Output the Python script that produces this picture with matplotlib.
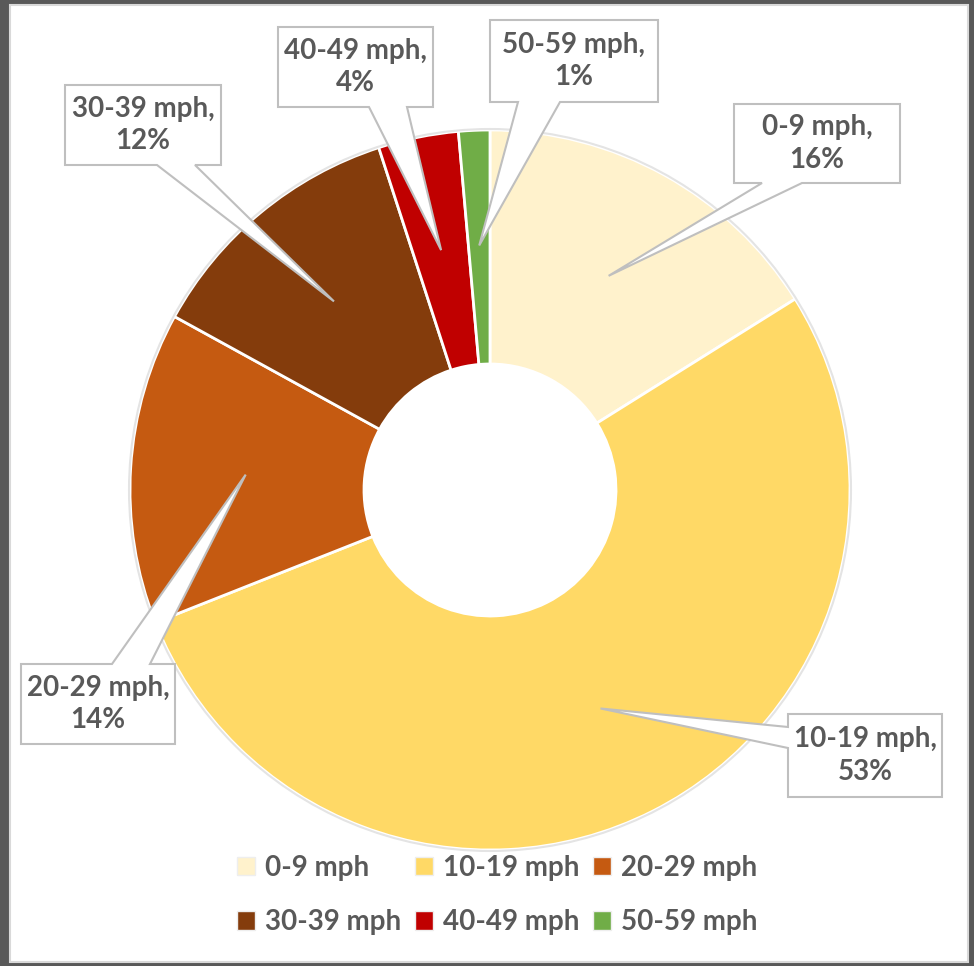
import matplotlib.pyplot as plt
import numpy as np
from matplotlib.patches import Polygon, Rectangle, Patch, Circle

# dane - rozkład prędkości wiatru
kategorie = ['0-9 mph', '10-19 mph', '20-29 mph', '30-39 mph', '40-49 mph', '50-59 mph']
udzialy = [16.1, 52.9, 14.0, 12.0, 3.6, 1.4]
kolory = ['#FFF2CC', '#FFD966', '#C55A11', '#843C0C', '#C00000', '#70AD47']

W, H = 974, 966
SZARY = '#595959'
plt.rcParams['font.family'] = ['Lato', 'DejaVu Sans']

fig = plt.figure(figsize=(W / 100, H / 100), dpi=100, facecolor=SZARY)
# białe tło wykresu z cienką jasną ramką (pod osiami)
fig.patches.append(Rectangle((10, 4), W - 16, H - 9, transform=None, zorder=-10,
                             facecolor='white', edgecolor='#d9d9d9', linewidth=1.5))

ax = fig.add_axes([0, 0, 1, 1])
ax.patch.set_alpha(0)

cx, cy = 490, H - 490
R = 360
ax.pie(udzialy, colors=kolory, startangle=90, counterclock=False,
       radius=R, center=(cx, cy),
       wedgeprops=dict(width=R - 126, edgecolor='white', linewidth=2))
# delikatny cień na zewnętrznej krawędzi pierścienia
ax.add_patch(Circle((cx, cy), R + 1, fill=False, edgecolor='#e4e4e4', linewidth=1.5, zorder=2))
ax.set_xlim(0, W)
ax.set_ylim(0, H)
ax.axis('off')

# dymki z etykietami: ramka (x0, y0, x1, y1 - od góry), bok wskaźnika, podstawa wskaźnika
dymki = [
    ((734, 104, 900, 183), 'bottom', (762, 802)),
    ((788, 714, 942, 797), 'left', (727, 748)),
    ((21, 664, 175, 744), 'top', (112, 150)),
    ((65, 85, 221, 165), 'bottom', (157, 195)),
    ((278, 27, 433, 107), 'bottom', (369, 407)),
    ((490, 20, 658, 102), 'bottom', (518, 560)),
]

suma = sum(udzialy)
poczatek = 0
for nazwa, v, (box, bok, (a, b)) in zip(kategorie, udzialy, dymki):
    kat = np.radians((poczatek + v / 2) / suma * 360)
    poczatek += v
    tx = cx + 0.68 * R * np.sin(kat)
    ty = H - (cy + 0.68 * R * np.cos(kat))
    x0, y0, x1, y1 = box
    if bok == 'bottom':
        pts = [(x0, y0), (x1, y0), (x1, y1), (b, y1), (tx, ty), (a, y1), (x0, y1)]
    elif bok == 'top':
        pts = [(x0, y0), (a, y0), (tx, ty), (b, y0), (x1, y0), (x1, y1), (x0, y1)]
    else:
        pts = [(x0, y0), (x1, y0), (x1, y1), (x0, y1), (x0, b), (tx, ty), (x0, a)]
    pts = [(px, H - py) for px, py in pts]
    ax.add_patch(Polygon(pts, closed=True, facecolor='white', edgecolor='#bfbfbf',
                         linewidth=1.5, zorder=5))
    ax.text((x0 + x1) / 2, H - (y0 + y1) / 2, f'{nazwa},\n{round(v / suma * 100)}%',
            ha='center', va='center', fontsize=20, fontweight='bold', color=SZARY,
            linespacing=1.3, zorder=6)

# legenda - wiersz po wierszu
uchwyty = [Patch(facecolor=k, edgecolor='#eeeeee', linewidth=1) for k in kolory]
kolejnosc = [0, 3, 1, 4, 2, 5]
leg = ax.legend([uchwyty[i] for i in kolejnosc], [kategorie[i] for i in kolejnosc],
                ncol=3, loc='center', bbox_to_anchor=(497 / W, 1 - 895 / H),
                frameon=False, handlelength=0.65, handleheight=0.65,
                handletextpad=0.35, columnspacing=0.5, labelspacing=1.03,
                prop=dict(family='Lato', weight='bold', size=20))
for t in leg.get_texts():
    t.set_color(SZARY)

fig.savefig('out.png', dpi=100, facecolor=SZARY)
